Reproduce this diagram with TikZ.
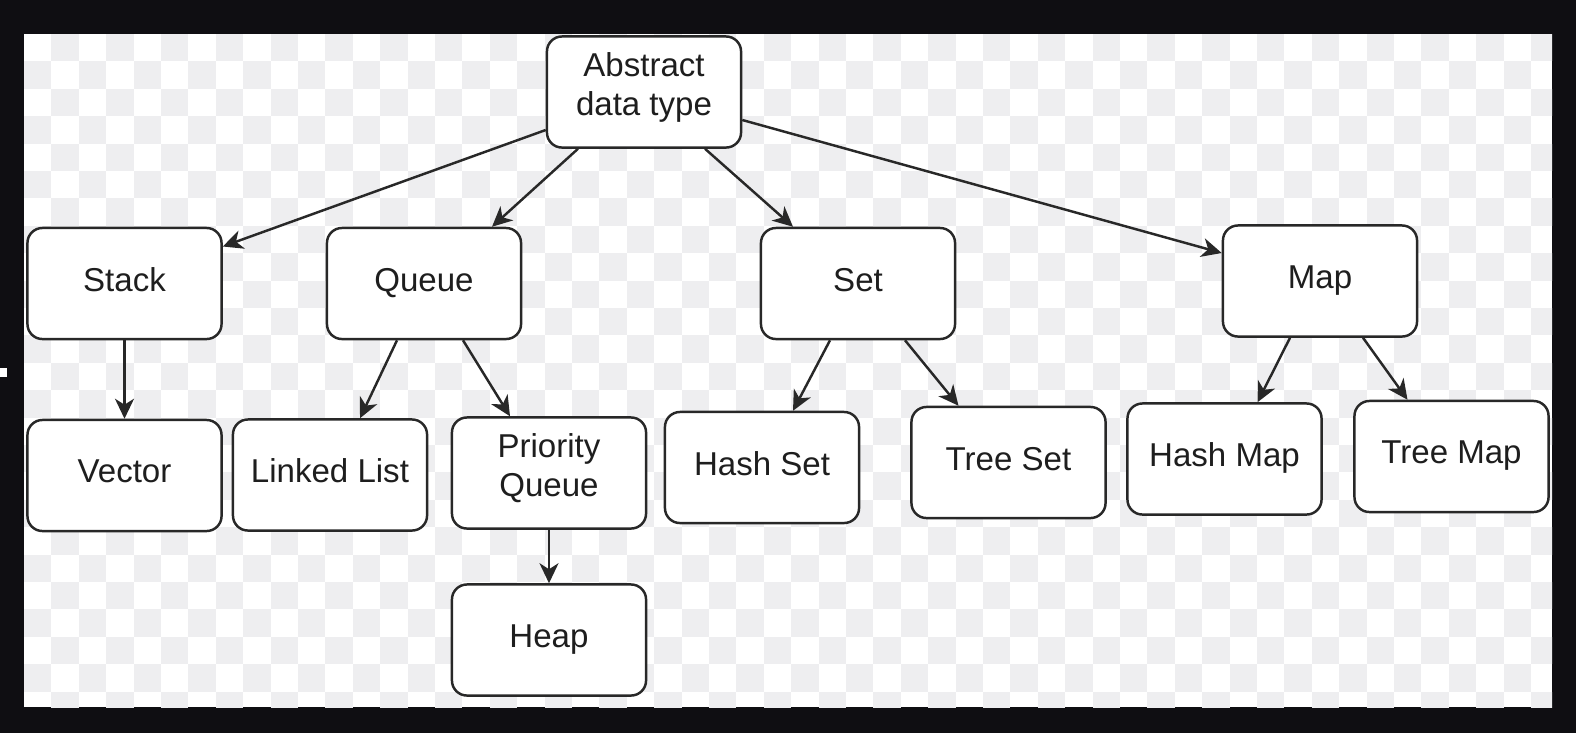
\documentclass[tikz,border=0pt]{standalone}
\usepackage{fontspec}
\setmainfont{Liberation Sans}
\usetikzlibrary{arrows.meta}
\definecolor{frame}{RGB}{15,14,18}
\definecolor{checker}{RGB}{238,238,240}
\definecolor{boxline}{RGB}{40,40,40}
\definecolor{txt}{RGB}{30,30,30}
\newcommand{\twolines}[2]{\raisebox{0.035cm}[\height][\depth]{\begin{tabular}{@{}c@{}}#1\\#2\end{tabular}}}
\begin{document}
\begin{tikzpicture}[x=0.01cm,y=-0.01cm,
		box/.style={draw=boxline,line width=0.7pt,rounded corners=0.15cm,fill=white,minimum width=1.94cm,minimum height=1.11cm,inner sep=0pt,text=txt,font=\fontsize{9.4}{11}\selectfont},
		oneline/.style={box,text depth=0.08cm},
		link/.style={draw=boxline,line width=0.7pt,-{Stealth[length=0.2cm,width=0.19cm,inset=0.06cm]}}]
			\useasboundingbox (0,0) rectangle (1576,733);
			\fill[frame] (0,0) rectangle (1576,733);
			\fill[white] (0,368) rectangle (7,377);
			% checkered canvas
			\begin{scope}
			\clip (24,34) rectangle (1552,707);
			\fill[white] (24,34) rectangle (1552,707);
			\foreach \i in {0,...,55}
				\foreach \j in {0,...,24}{
					\pgfmathtruncatemacro\odd{mod(\i+\j,2)}
					\ifnum\odd=1 \fill[checker] (24+27.4*\i,34+27.4*\j) rectangle ++(27.4,27.4); \fi
				}
			\end{scope}
			% boxes
			\node[box] (adt) at (644,92) {\twolines{Abstract}{data type}};
			\node[oneline] (stack) at (124.5,283.5) {Stack};
			\node[oneline] (queue) at (424,283.5) {Queue};
			\node[oneline] (set) at (858,283.5) {Set};
			\node[oneline] (map) at (1320,281) {Map};
			\node[oneline] (vector) at (124.5,475.5) {Vector};
			\node[oneline] (linked) at (330,475) {Linked List};
			\node[box] (prio) at (549,473) {\twolines{Priority}{Queue}};
			\node[oneline] (heap) at (549,640) {Heap};
			\node[oneline] (hashset) at (762,467.5) {Hash Set};
			\node[oneline] (treeset) at (1008.5,462.5) {Tree Set};
			\node[oneline] (hashmap) at (1224.5,459) {Hash Map};
			\node[oneline] (treemap) at (1451.5,456.5) {Tree Map};
			% arrows
			\draw[link] ([shift={(0,38)}]adt.west) -- ([shift={(0,-37)}]stack.east);
			\draw[link] ([shift={(-66,0)}]adt.south) -- ([shift={(68,0)}]queue.north);
			\draw[link] ([shift={(61,0)}]adt.south) -- ([shift={(-65,0)}]set.north);
			\draw[link] ([shift={(0,28)}]adt.east) -- ([shift={(0,-28)}]map.west);
			\draw[link] (stack) -- (vector);
			\draw[link] ([shift={(-27,0)}]queue.south) -- ([shift={(30,0)}]linked.north);
			\draw[link] ([shift={(39,0)}]queue.south) -- ([shift={(-39,0)}]prio.north);
			\draw[link] (prio) -- (heap);
			\draw[link] ([shift={(-28,0)}]set.south) -- ([shift={(31,0)}]hashset.north);
			\draw[link] ([shift={(47,0)}]set.south) -- ([shift={(-50,0)}]treeset.north);
			\draw[link] ([shift={(-30,0)}]map.south) -- ([shift={(33,0)}]hashmap.north);
			\draw[link] ([shift={(43,0)}]map.south) -- ([shift={(-44,0)}]treemap.north);
\end{tikzpicture}
\end{document}
